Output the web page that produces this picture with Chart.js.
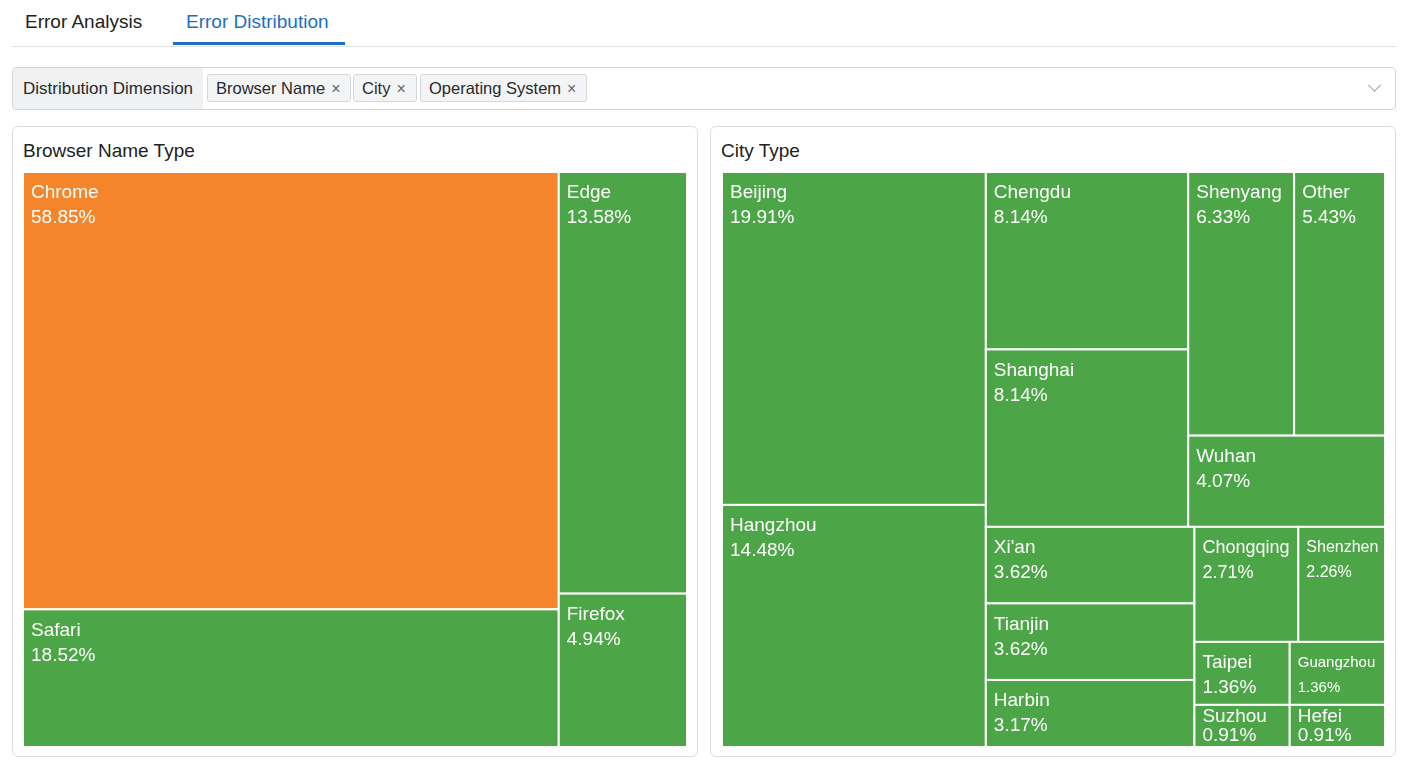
<!DOCTYPE html>
<html>
<head>
<meta charset="utf-8">
<script src="https://cdn.jsdelivr.net/npm/chart.js@4/dist/chart.umd.min.js"></script>
<style>
  html, body { margin: 0; padding: 0; background: #fff; }
  body { width: 1408px; height: 768px; position: relative; font-family: "Liberation Sans", Arial, sans-serif; color: #222; overflow: hidden; }
  .tabs { position: absolute; left: 12px; top: 0; width: 1384px; height: 46px; border-bottom: 1px solid #e3e3e3; }
  .tab { position: absolute; top: 10px; font-size: 19px; line-height: 24px; }
  .tab.t1 { left: 13px; color: #222; }
  .tab.t2 { left: 174px; color: #1d6fc2; }
  .tab-line { position: absolute; left: 161px; width: 172px; top: 42px; height: 3px; background: #1d6fc2; }
  .filter { position: absolute; left: 12px; top: 67px; width: 1382px; height: 41px; border: 1px solid #d4d4d4; border-radius: 4px; overflow: hidden; }
  .flabel { position: absolute; left: 0; top: 0; width: 190px; height: 41px; background: #eff1f3; font-size: 17px; line-height: 41px; padding-left: 10px; box-sizing: border-box; color: #2a2a2a; }
  .tag { position: absolute; top: 6px; height: 28px; border: 1px solid #d6d8db; border-radius: 3px; background: #f3f4f6; font-size: 16.5px; line-height: 27px; padding: 0 10px 0 8px; box-sizing: border-box; color: #2a2a2a; }
  .tag .x { color: #666; font-size: 16px; margin-left: 6px; }
  .chev { position: absolute; right: 16px; top: 13px; width: 8px; height: 8px; border-right: 1.5px solid #999; border-bottom: 1.5px solid #999; transform: rotate(45deg); }
  .panel { position: absolute; top: 126px; height: 631px; border: 1px solid #dcdcdc; border-radius: 6px; box-sizing: border-box; }
  .ptitle { position: absolute; left: 10px; top: 12px; font-size: 19px; line-height: 24px; color: #222; }
  .cw { position: absolute; left: 10px; top: 45px; width: 664px; height: 575px; }
</style>
</head>
<body>
<div class="tabs">
  <div class="tab t1">Error Analysis</div>
  <div class="tab t2">Error Distribution</div>
  <div class="tab-line"></div>
</div>
<div class="filter">
  <div class="flabel">Distribution Dimension</div>
  <div class="tag" style="left:194px">Browser Name<span class="x">×</span></div>
  <div class="tag" style="left:340px">City<span class="x">×</span></div>
  <div class="tag" style="left:407px">Operating System<span class="x">×</span></div>
  <div class="chev"></div>
</div>
<div class="panel" style="left:12px;width:686px"><div class="ptitle">Browser Name Type</div><div class="cw"><canvas id="browserChart"></canvas></div></div>
<div class="panel" style="left:710px;width:686px"><div class="ptitle">City Type</div><div class="cw" style="left:11px;width:663px"><canvas id="cityChart"></canvas></div></div>
<script>
// share of errors (%) per browser
const browserLabels = ['Chrome', 'Safari', 'Edge', 'Firefox'];
const browserValues = [58.85, 18.52, 13.58, 4.94];
// grouping of cells (indices), columns/rows alternate with depth
const browserTree = [[0, 1], [2, 3]];

// share of errors (%) per city
const cityLabels = ['Beijing', 'Hangzhou', 'Chengdu', 'Shanghai', 'Shenyang', 'Other', 'Wuhan',
  "Xi'an", 'Tianjin', 'Harbin', 'Chongqing', 'Shenzhen', 'Taipei', 'Suzhou', 'Guangzhou', 'Hefei'];
const cityValues = [19.91, 14.48, 8.14, 8.14, 6.33, 5.43, 4.07, 3.62, 3.62, 3.17, 2.71, 2.26, 1.36, 0.91, 1.36, 0.91];
const cityTree = [[0, 1], [[[2, 3], [[4, 5], 6]], [[7, 8, 9], [[10, 11], [[12, 13], [14, 15]]]]]];

const ORANGE = '#f5852b';
const GREEN = '#4ca546';
const FONT = '"Liberation Sans", Arial, sans-serif';

function nodeSum(node, values) {
    if (typeof node === 'number') return values[node];
    return node.reduce((s, n) => s + nodeSum(n, values), 0);
}

// slice-and-dice layout in data space (0..100 on both axes)
function layoutTree(node, values, x0, y0, x1, y1, depth, out) {
    if (typeof node === 'number') {
        out.push({ index: node, x0, y0, x1, y1 });
        return out;
    }
    const total = nodeSum(node, values);
    let pos = depth % 2 === 0 ? x0 : y0;
    node.forEach((child) => {
        const frac = nodeSum(child, values) / total;
        if (depth % 2 === 0) {
            const w = (x1 - x0) * frac;
            layoutTree(child, values, pos, y0, pos + w, y1, depth + 1, out);
            pos += w;
        } else {
            const h = (y1 - y0) * frac;
            layoutTree(child, values, x0, pos, x1, pos + h, depth + 1, out);
            pos += h;
        }
    });
    return out;
}

const treemapPlugin = {
    id: 'simpleTreemap',
    afterDatasetsDraw(chart, args, opts) {
        const { ctx, scales: { x, y } } = chart;
        const rects = layoutTree(opts.tree, opts.values, 0, 0, 100, 100, 0, []);
        rects.forEach((r) => {
            const px0 = x.getPixelForValue(r.x0);
            const px1 = x.getPixelForValue(r.x1);
            const py0 = y.getPixelForValue(r.y0);
            const py1 = y.getPixelForValue(r.y1);
            const w = px1 - px0, h = py1 - py0;
            const label = opts.labels[r.index];
            const pct = opts.values[r.index].toFixed(2) + '%';
            ctx.save();
            ctx.fillStyle = label === opts.highlight ? ORANGE : GREEN;
            ctx.fillRect(px0, py0, w, h);
            ctx.strokeStyle = '#ffffff';
            ctx.lineWidth = 2;
            ctx.strokeRect(px0, py0, w, h);

            // labels, shrunk a bit in small cells, clipped to the cell
            ctx.beginPath();
            ctx.rect(px0 + 1, py0 + 1, w - 2, h - 2);
            ctx.clip();
            let size = 19;
            ctx.font = size + 'px ' + FONT;
            const textW = Math.max(ctx.measureText(label).width, ctx.measureText(pct).width);
            if (textW > w - 14) {
                size = Math.max(13, Math.floor(size * (w - 14) / textW));
                ctx.font = size + 'px ' + FONT;
            }
            ctx.fillStyle = '#ffffff';
            ctx.textBaseline = 'middle';
            ctx.textAlign = 'left';
            let y1 = 21, y2 = 46;
            if (h < 58) { y1 = h * 0.28; y2 = h * 0.74; }
            ctx.fillText(label, px0 + 8, py0 + y1);
            ctx.fillText(pct, px0 + 8, py0 + y2);
            ctx.restore();
        });
    }
};

function renderTreemap(canvasId, labels, values, tree, highlight) {
    const ctx = document.getElementById(canvasId)?.getContext('2d');
    if (!ctx) return;
    new Chart(ctx, {
        type: 'scatter',
        data: { datasets: [{ data: [] }] },
        options: {
            responsive: true,
            maintainAspectRatio: false,
            animation: false,
            layout: { padding: 0 },
            plugins: {
                legend: { display: false },
                tooltip: { enabled: false },
                simpleTreemap: { labels, values, tree, highlight }
            },
            scales: {
                x: { type: 'linear', min: 0, max: 100, display: false },
                y: { type: 'linear', min: 0, max: 100, reverse: true, display: false }
            }
        },
        plugins: [treemapPlugin]
    });
}

renderTreemap('browserChart', browserLabels, browserValues, browserTree, 'Chrome');
renderTreemap('cityChart', cityLabels, cityValues, cityTree, null);
</script>
</body>
</html>
